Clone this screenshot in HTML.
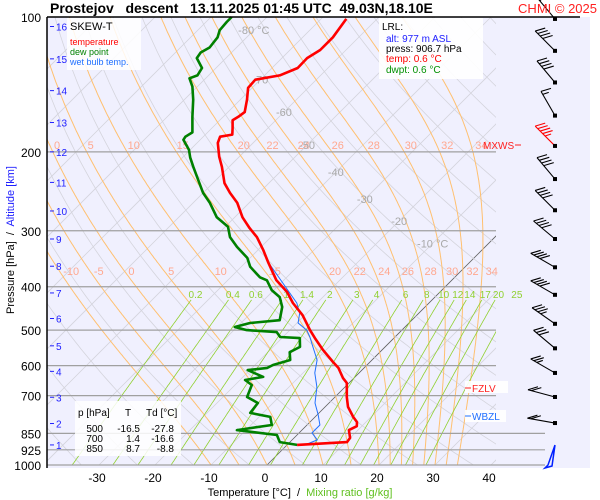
<!DOCTYPE html>
<html><head><meta charset="utf-8"><style>
body{margin:0;background:#fff;}
svg{display:block;font-family:"Liberation Sans",sans-serif;}
svg text{white-space:pre;}
</style></head><body>
<svg id="c" width="600" height="500" viewBox="0 0 600 500" xmlns="http://www.w3.org/2000/svg">
<rect x="0" y="0" width="600" height="500" fill="#ffffff"/>
<rect x="47" y="17" width="543" height="451" fill="#f0f0fe"/>
<defs><clipPath id="pc"><rect x="47" y="17" width="449" height="448"/></clipPath></defs>
<g id="grid" clip-path="url(#pc)"></g>
<g id="isob"></g>
<g id="lbl"></g>
<g id="series"></g>
<g id="wind"></g>
<line x1="47" y1="17" x2="580" y2="17" stroke="#000" stroke-width="1.5"/>
<line x1="47" y1="17" x2="47" y2="468" stroke="#000" stroke-width="1.5"/>
<text x="50" y="13" font-size="14" font-weight="bold">Prostejov   descent   13.11.2025 01:45 UTC  49.03N,18.10E</text>
<text x="597" y="13" font-size="13" fill="#ff2020" text-anchor="end">CHMI © 2025</text>
<g>
<rect x="67" y="18" width="74" height="52" fill="#fff" opacity="0.85"/>
<text x="70" y="30" font-size="11">SKEW-T</text>
<text x="70" y="45" font-size="9" fill="#ff0000">temperature</text>
<text x="70" y="55" font-size="9" fill="#008000">dew point</text>
<text x="70" y="65" font-size="9" fill="#2070ff">wet bulb temp.</text>
</g>
<g>
<rect x="379" y="18" width="104" height="61" fill="#fff" opacity="0.9"/>
<text x="382" y="30" font-size="10">LRL:</text>
<text x="386" y="42" font-size="10" fill="#2020ff">alt: 977 m ASL</text>
<text x="386" y="52" font-size="10">press: 906.7 hPa</text>
<text x="386" y="62" font-size="10" fill="#ff0000">temp: 0.6 °C</text>
<text x="386" y="73" font-size="10" fill="#009000">dwpt: 0.6 °C</text>
</g>
<g font-size="10">
<rect x="75" y="401" width="106" height="55" fill="#fff" opacity="0.85"/>
<text x="78" y="416">p [hPa]</text>
<text x="125" y="416">T</text>
<text x="146" y="416">Td [°C]</text>
<g text-anchor="end">
<text x="103" y="432">500</text>
<text x="140" y="432">-16.5</text>
<text x="174" y="432">-27.8</text>
<text x="103" y="442">700</text>
<text x="140" y="442">1.4</text>
<text x="174" y="442">-16.6</text>
<text x="103" y="452">850</text>
<text x="140" y="452">8.7</text>
<text x="174" y="452">-8.8</text>
</g>
</g>
<g font-size="10">
<text x="483" y="149" fill="#ff2020">MXWS</text>
<line x1="515" y1="145" x2="521" y2="145" stroke="#ff2020"/>
<rect x="465" y="381" width="43" height="12" fill="#fff" opacity="0.9"/>
<line x1="465" y1="388" x2="471" y2="388" stroke="#ff2020"/>
<text x="472" y="392" fill="#ff2020">FZLV</text>
<rect x="465" y="410" width="41" height="12" fill="#fff" opacity="0.9"/>
<line x1="465" y1="416" x2="471" y2="416" stroke="#2070ff"/>
<text x="472" y="420" fill="#2070ff">WBZL</text>
</g>
<text transform="translate(14,240) rotate(-90)" font-size="11" text-anchor="middle">Pressure [hPa]  /  <tspan fill="#2020ff">Altitude [km]</tspan></text>
<text x="300" y="496" font-size="11" text-anchor="middle">Temperature [°C]  /  <tspan fill="#60c020">Mixing ratio [g/kg]</tspan></text>
</svg>
<script>
// ---- data ----
const tempP=[902,889,870,836,819,802,781,742,705,656,639,607,589,554,521,500,463,435,411,387,352,331,310,296,280,260,247,235,216,205,191,185,183,177,170,167,163,153,144,138,135,130,123.5,118.5,111,101];
const tempT=[1.8,10.2,10.0,8.4,9.1,8.4,6.8,4.1,2.1,-0.4,-2.0,-4.6,-6.6,-10.5,-14.1,-16.4,-20.4,-24.3,-27.3,-31.3,-36.1,-39.1,-42.5,-45.4,-48.6,-52.1,-55.2,-57.9,-61.3,-63.6,-66.3,-67.0,-65.2,-66.3,-67.7,-67.3,-67.0,-68.8,-70.7,-70.9,-67.3,-65.4,-65.5,-64.6,-64.6,-65.5];
const dewP=[902,889,857,836,814,781,765,727,705,663,646,636,614,607,598,583,560,545,521,518,505,500,492,482,475,444,422,407,387,381,361,345,326,310,294,280,260,247,231,216,206,198,188,185,181,167,153,143,137,135,130,123.5,120,117,111,107,102.6,100];
const dewT=[1.8,-1.8,-3.6,-11.6,-6.3,-8.0,-12.3,-12.7,-15.7,-17.0,-19.1,-16.4,-20.4,-17.3,-16.8,-14.6,-16.1,-15.2,-16.8,-20.5,-22.0,-27.7,-30.4,-28.4,-23.6,-25.5,-27.7,-30.4,-33.0,-34.8,-38.4,-40.5,-44.3,-47.3,-49.5,-53.2,-57.0,-60.0,-63.2,-66.4,-68.6,-70.2,-73.0,-73.2,-72.7,-75.5,-78.4,-80.9,-82.9,-82.0,-82.5,-85.2,-85.5,-84.8,-85.2,-86.1,-86.3,-86.3];
const wbP=[902,898,879,848,814,773,727,670,623,583,545,518,500,482,458,435,352,331,310];
const wbT=[1.8,3.4,4.5,2.3,2.3,0.2,-2.5,-5.0,-7.9,-9.8,-12.9,-15.2,-17.0,-19.8,-21.3,-23.6,-36.1,-39.1,-42.5];
const windP=[101,119,140,166,194,230,270,313,362,417,484,549,623,705,806];
const windDir=[320,315,320,330,315,320,315,310,300,300,305,310,300,285,280];
const windSpd=[50,40,40,15,45,40,40,40,40,40,35,30,25,20,20];
const pTicks=[100,200,300,400,500,600,700,850,925,1000];
const tTicks=[-30,-20,-10,0,10,20,30,40];
const kmTicks=[1,2,3,4,5,6,7,8,9,10,11,12,13,14,15,16];
const kmPress=[902,808,706,618,542,471,413,360,313,271,234,200,172,146,124,105];
const thetaW=[-10,-5,0,5,10,15,20,22,24,26,28,30,32,34];
const mixR=[0.2,0.4,0.6,1,1.4,2,3,4,6,8,10,12,14,17,20,25];
const isoLabelT=[-10,-20,-30,-40,-50,-60,-70,-80];
const isoLabelP=[320,285,255,222,193,163,138,107];
// ---- axes ----
const NS='http://www.w3.org/2000/svg';
function Y(p){return 17+448*Math.log10(p/100);}
function X(T,p){return 267+5.6*T+(465-Y(p));}
function mk(tag,attrs,parent){const e=document.createElementNS(NS,tag);for(const k in attrs)e.setAttribute(k,attrs[k]);parent.appendChild(e);return e;}
function poly(pts){return pts.map(q=>q[0].toFixed(1)+','+q[1].toFixed(1)).join(' ');}
const grid=document.getElementById('grid'),isob=document.getElementById('isob'),lbl=document.getElementById('lbl'),ser=document.getElementById('series'),wind=document.getElementById('wind');
for(let T=-140;T<=40;T+=10){
 const l=mk('line',{x1:X(T,1000),y1:Y(1000),x2:X(T,100),y2:Y(100),stroke:T===0?'#606060':'#d4d4dc','stroke-width':0.8},grid);
 
 
}
for(let th=240;th<=500;th+=10){
 const pts=[];for(let p=1000;p>=100;p-=10){pts.push([X(th*Math.pow(p/1000,0.286)-273.15,p),Y(p)]);}
 const l=mk('polyline',{points:poly(pts),fill:'none',stroke:'#d4d4dc','stroke-width':0.8},grid);
 
 
}
function moist(tw){let T=tw+273.15,p=1000;const out=[[p,tw]];while(p>100){const Tc=T-273.15;const es=6.112*Math.exp(17.67*Tc/(Tc+243.5));const rs=0.622*es/(p-es);const d=(287*T+2.501e6*rs)/(p*(1004+2.501e6*2.501e6*rs*0.622/(287*T*T)));T+=d*(-2);p-=2;out.push([p,T-273.15]);}return out;}
function atP(c,p){let best=c[0];for(const q of c){if(Math.abs(q[0]-p)<Math.abs(best[0]-p))best=q;}return best[1];}
thetaW.forEach(tw=>{
 const c=moist(tw);
 const l=mk('polyline',{points:poly(c.map(q=>[X(q[1],q[0]),Y(q[0])])),fill:'none',stroke:'#ffc070','stroke-width':1},grid);
 
 
 [[369,275],[193,149]].forEach(r=>{
  let x=X(atP(c,r[0]),r[0])+3; if(x<50)x=50;
  if(x>490)return;
  if(r[0]===193&&tw<0)return;
  const t=mk('text',{x:x,y:r[1],'font-size':11,fill:'#ffa890'},lbl);t.textContent=tw;
  
  
 });
});
mixR.forEach(w=>{
 const pts=[];for(let p=1000;p>=428;p-=4){const e=w/1000*p/(0.622+w/1000);const L=Math.log(e/6.112);const T=243.5*L/(17.67-L);pts.push([X(T,p),Y(p)]);}
 const l=mk('polyline',{points:poly(pts),fill:'none',stroke:'#90d030','stroke-width':0.8},grid);
 
 
 const e=w/1000*415/(0.622+w/1000);const L=Math.log(e/6.112);const T=243.5*L/(17.67-L);
 const t=mk('text',{x:X(T,415),y:298,'font-size':10,fill:'#90d030','text-anchor':'middle'},lbl);t.textContent=w;
 
 
});
isoLabelT.forEach((T,i)=>{
 const t=mk('text',{x:X(T,isoLabelP[i]),y:Y(isoLabelP[i])+4,'font-size':11,fill:'#a8a8a8','text-anchor':'middle'},lbl);
 t.textContent=(i===0||i===7)?T+' °C':T;
 
 
});
pTicks.forEach(p=>{
 if(p>100){const l=mk('line',{x1:47,y1:Y(p),x2:p>=850?545:496,y2:Y(p),stroke:'#a0a0a0','stroke-width':1.2},isob);
 
 }
 const t=mk('text',{x:41,y:Y(p)+5,'font-size':12,'text-anchor':'end'},isob);t.textContent=p;
 
 
});
tTicks.forEach(T=>{
 const t=mk('text',{x:X(T,1000)-2,y:482,'font-size':12,'text-anchor':'middle'},isob);t.textContent=T;
 
 
});
kmTicks.forEach((k,i)=>{
 const y=Y(kmPress[i]);
 mk('line',{x1:50,y1:y,x2:54,y2:y,stroke:'#2020ff'},isob);
 const t=mk('text',{x:56,y:y+4,'font-size':10,fill:'#2020ff'},isob);t.textContent=k;
 
 
});
function series(P,T,col,w,name){
 const l=mk('polyline',{points:poly(P.map((p,i)=>[X(T[i],p),Y(p)])),fill:'none',stroke:col,'stroke-width':w,'stroke-linejoin':'round'},ser);
 
 
}
series(dewP,dewT,'#008000',2.6,'dew-point-line');
series(wbP,wbT,'#2070ff',1,'wet-bulb-line');
series(tempP,tempT,'#ff0000',2.6,'temperature-line');
windP.forEach((p,i)=>{
 const x0=555,y0=Y(p),a=windDir[i]*Math.PI/180;
 const sx=Math.sin(a),sy=-Math.cos(a);
 const col=(p===194)?'#ff0000':'#000';
 const L=28,x1=x0+sx*L,y1=y0+sy*L;
 const g=mk('g',{},wind);
 
 
 mk('line',{x1:x0,y1:y0,x2:x1,y2:y1,stroke:col,'stroke-width':1.1},g);
 mk('rect',{x:x0-2,y:y0-2,width:4,height:4,fill:'#000'},g);
 let s=windSpd[i],pos=0;
 while(s>=50){const bx=x1-sx*pos,by=y1-sy*pos;mk('polygon',{points:poly([[bx,by],[bx+10,by-3],[bx-sx*5,by-sy*5]]),fill:col},g);pos+=6;s-=50;}
 while(s>=10){const bx=x1-sx*pos,by=y1-sy*pos;mk('line',{x1:bx,y1:by,x2:bx+10,y2:by-3,stroke:col,'stroke-width':1.1},g);pos+=3.5;s-=10;}
 if(s>=5){const bx=x1-sx*pos,by=y1-sy*pos;mk('line',{x1:bx,y1:by,x2:bx+6,y2:by-2,stroke:col,'stroke-width':1.1},g);}
});
const sb=mk('polyline',{points:'555,445 548,465 545,468 552,466 555,445',fill:'none',stroke:'#0020ff','stroke-width':1.5},wind);


</script>
</body></html>
